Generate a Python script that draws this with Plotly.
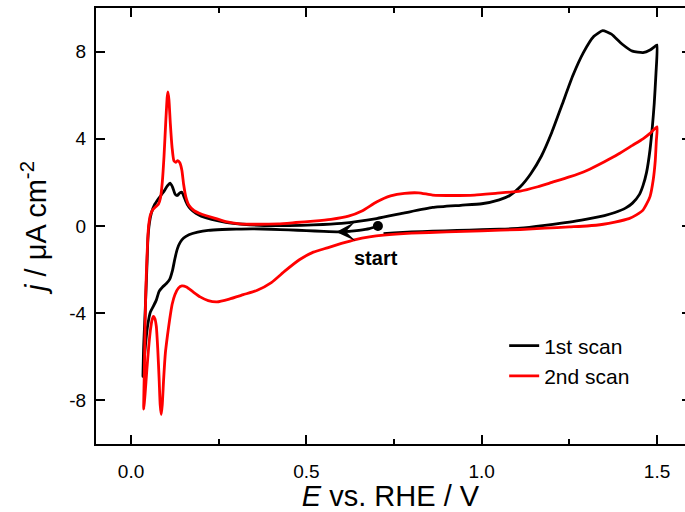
import plotly.graph_objects as go

# ---- data ----
scan1_E = [0.704, 0.68, 0.65, 0.62, 0.596, 0.55, 0.50, 0.45, 0.40, 0.35, 0.30, 0.26, 0.22, 0.19, 0.165,
           0.15, 0.14, 0.132, 0.125, 0.118, 0.11, 0.10, 0.09, 0.08, 0.072, 0.063, 0.055, 0.048, 0.042,
           0.037, 0.034,
           0.036, 0.040, 0.043, 0.046, 0.048, 0.052, 0.058, 0.066, 0.078, 0.092, 0.104, 0.111, 0.118,
           0.126, 0.132, 0.139, 0.145, 0.152, 0.16, 0.17, 0.185, 0.20, 0.23, 0.27, 0.32, 0.38, 0.45,
           0.52, 0.60, 0.70, 0.78, 0.86, 0.94, 1.00, 1.05, 1.08, 1.11, 1.14, 1.17, 1.20, 1.23, 1.26,
           1.29, 1.32, 1.345, 1.37, 1.40, 1.43, 1.46, 1.48, 1.495, 1.50,
           1.497, 1.492, 1.487, 1.48, 1.47, 1.46, 1.45, 1.43, 1.41, 1.38, 1.35, 1.30, 1.25, 1.18, 1.11,
           1.05, 1.00, 0.93, 0.86, 0.80, 0.75, 0.72]
scan1_j = [0.0, -0.12, -0.2, -0.25, -0.27, -0.25, -0.21, -0.18, -0.15, -0.13, -0.14, -0.16, -0.2, -0.28, -0.4,
           -0.55, -0.75, -1.05, -1.5, -2.05, -2.45, -2.65, -2.8, -3.0, -3.4, -3.7, -3.95, -4.5, -5.3,
           -6.2, -6.9,
           -5.5, -4.0, -2.8, -1.5, -0.6, 0.1, 0.6, 0.95, 1.25, 1.55, 1.85, 1.97, 1.8,
           1.45, 1.4, 1.52, 1.55, 1.3, 1.0, 0.78, 0.58, 0.45, 0.3, 0.17, 0.08, 0.02, 0.02,
           0.05, 0.12, 0.34, 0.6, 0.85, 0.95, 1.02, 1.2, 1.4, 1.8, 2.4, 3.2, 4.3, 5.6, 6.9,
           7.95, 8.7, 8.96, 8.8, 8.35, 8.02, 7.95, 8.07, 8.25, 8.3,
           7.0, 5.6, 4.6, 3.5, 2.45, 1.85, 1.45, 1.05, 0.82, 0.62, 0.48, 0.32, 0.18, 0.03, -0.1,
           -0.15, -0.17, -0.2, -0.24, -0.27, -0.32, -0.35]

scan2_E = [0.72, 0.68, 0.64, 0.60, 0.56, 0.52, 0.48, 0.44, 0.40, 0.36, 0.32, 0.28, 0.245, 0.22, 0.197,
           0.175, 0.158, 0.145, 0.135, 0.125, 0.117, 0.110, 0.104, 0.098, 0.093, 0.089, 0.086, 0.083,
           0.080, 0.076, 0.072, 0.068, 0.064, 0.060, 0.055, 0.050, 0.045, 0.040, 0.036,
           0.038, 0.040, 0.042, 0.045, 0.048, 0.050, 0.055, 0.062, 0.070, 0.078, 0.084, 0.089, 0.094,
           0.099, 0.103, 0.105, 0.108, 0.112, 0.117, 0.122, 0.128, 0.133, 0.139, 0.145, 0.150, 0.156,
           0.165, 0.18, 0.20, 0.24, 0.27, 0.31, 0.36, 0.42, 0.47, 0.52, 0.57, 0.62, 0.66, 0.70, 0.74,
           0.78, 0.82, 0.86, 0.92, 0.98, 1.04, 1.11, 1.16, 1.20, 1.25, 1.30, 1.35, 1.39, 1.43, 1.46,
           1.48, 1.50,
           1.498, 1.495, 1.489, 1.48, 1.47, 1.46, 1.44, 1.42, 1.38, 1.347, 1.30, 1.25, 1.18, 1.11,
           1.00, 0.90, 0.80, 0.72]
scan2_j = [-0.42, -0.5, -0.62, -0.8, -1.0, -1.2, -1.55, -2.05, -2.6, -2.95, -3.15, -3.35, -3.48, -3.42, -3.25,
           -3.0, -2.8, -2.75, -2.85, -3.15, -3.6, -4.3, -5.0, -5.8, -7.0, -8.2, -8.65, -8.2,
           -7.0, -5.6, -4.6, -4.25, -4.15, -4.3, -4.8, -5.6, -6.6, -7.7, -8.4,
           -6.5, -4.6, -3.0, -1.57, -0.5, 0.0, 0.5, 0.75, 0.88, 1.0, 1.3, 2.0, 3.2,
           4.8, 5.9, 6.15, 5.8, 4.7, 3.6, 3.0, 2.92, 3.0, 2.9, 2.55, 1.9, 1.35,
           0.95, 0.7, 0.55, 0.35, 0.2, 0.1, 0.08, 0.1, 0.16, 0.22, 0.3, 0.45, 0.7, 1.1, 1.38,
           1.5, 1.52, 1.42, 1.4, 1.42, 1.5, 1.6, 1.8, 2.0, 2.25, 2.55, 2.95, 3.3, 3.7, 4.0,
           4.25, 4.55,
           3.9, 3.0, 2.1, 1.35, 1.0, 0.73, 0.5, 0.34, 0.18, 0.08, 0.0, -0.04, -0.1, -0.16,
           -0.22, -0.27, -0.33, -0.42]

start_E, start_j = 0.704, 0.0
arrow_E, arrow_j = 0.585, -0.27
x_ticks = [0.0, 0.5, 1.0, 1.5]
x_ticklabels = ["0.0", "0.5", "1.0", "1.5"]
x_minor = [0.25, 0.75, 1.25]
y_ticks = [-8, -4, 0, 4, 8]
y_ticklabels = ["-8", "-4", "0", "4", "8"]

FONT = "Liberation Sans, Arial, sans-serif"

fig = go.Figure()
fig.add_trace(go.Scatter(x=scan1_E, y=scan1_j, mode="lines", name="1st scan",
                         line=dict(color="black", width=2.8, shape="spline", smoothing=0.5)))
fig.add_trace(go.Scatter(x=scan2_E, y=scan2_j, mode="lines", name="2nd scan",
                         line=dict(color="#ff0000", width=2.8, shape="spline", smoothing=0.5)))
fig.add_trace(go.Scatter(x=[start_E], y=[start_j], mode="markers", showlegend=False,
                         marker=dict(color="black", size=10), hoverinfo="skip"))
# empty trace so the right-hand tick axis is drawn
fig.add_trace(go.Scatter(x=[None], y=[None], xaxis="x", yaxis="y2", showlegend=False,
                         hoverinfo="skip"))

fig.add_annotation(x=arrow_E, y=arrow_j, ax=arrow_E + 0.045, ay=arrow_j + 0.02,
                   xref="x", yref="y", axref="x", ayref="y", text="", showarrow=True,
                   arrowhead=3, arrowsize=2.0, arrowwidth=1.6, arrowcolor="black")
fig.add_annotation(x=start_E - 0.005, y=start_j - 1.45, xref="x", yref="y", text="<b>start</b>",
                   showarrow=False, font=dict(family=FONT, size=20, color="black"))

xr = [-0.1, 1.5798]
yr = [-10, 10]
fig.update_layout(
    width=685, height=512,
    margin=dict(l=96, r=0, t=8, b=68),
    paper_bgcolor="white", plot_bgcolor="white",
    font=dict(family=FONT, color="black", size=19),
    showlegend=True,
    legend=dict(x=0.693, y=0.272, xanchor="left", yanchor="top", bgcolor="rgba(0,0,0,0)",
                font=dict(family=FONT, size=21, color="black"), tracegroupgap=0),
    xaxis=dict(range=xr, showgrid=False, zeroline=False, showline=True, linecolor="black",
               linewidth=2, mirror="ticks", ticks="inside", ticklen=9, tickwidth=2,
               tickcolor="black", tickvals=x_ticks, ticktext=x_ticklabels,
               ticklabelstandoff=9,
               tickfont=dict(family=FONT, size=19, color="black"),
               minor=dict(tickvals=x_minor, ticks="inside", ticklen=5, tickwidth=2,
                          tickcolor="black", showgrid=False),
               title=dict(text="<i>E</i> vs. RHE / V", standoff=5,
                          font=dict(family=FONT, size=29, color="black"))),
    yaxis=dict(range=yr, showgrid=False, zeroline=False, showline=True, linecolor="black",
               linewidth=2, mirror=False, ticks="inside", ticklen=9, tickwidth=2,
               tickcolor="black", tickvals=y_ticks, ticktext=y_ticklabels,
               ticklabelstandoff=4,
               tickfont=dict(family=FONT, size=19, color="black"),
               title=dict(text="<i>j</i> / μA cm<sup>-2</sup>", standoff=14,
                          font=dict(family=FONT, size=29, color="black"))),
    yaxis2=dict(range=yr, overlaying="y", side="right", anchor="x", showgrid=False,
                zeroline=False, showline=False, ticks="inside", ticklen=3, tickwidth=2,
                tickcolor="black", tickvals=y_ticks, showticklabels=False),
)

fig.write_html("out.html")
